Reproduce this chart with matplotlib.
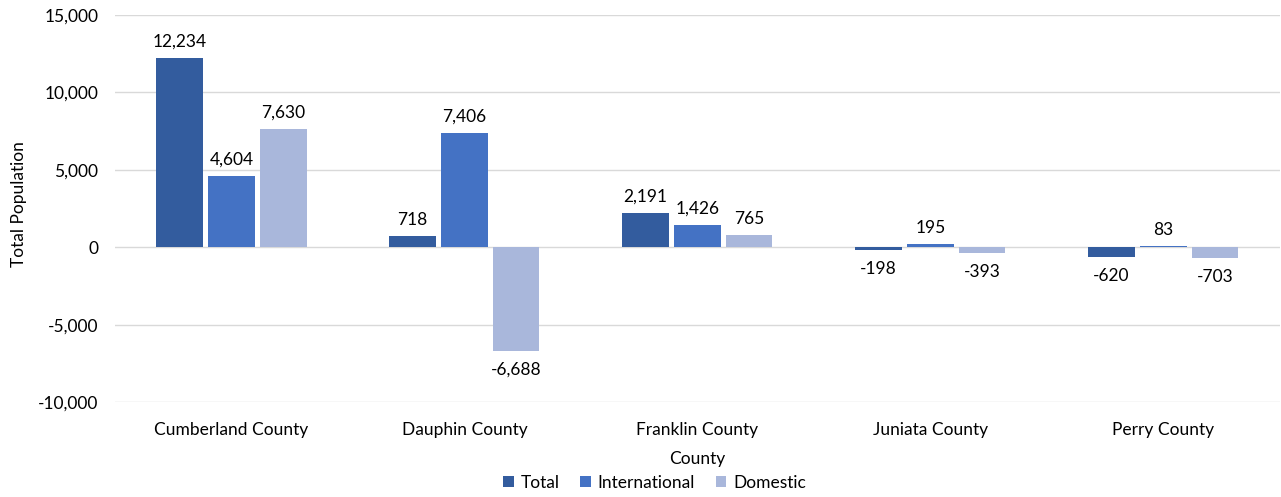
import matplotlib.pyplot as plt
import numpy as np

counties = ["Cumberland County", "Dauphin County", "Franklin County",
            "Juniata County", "Perry County"]
total = [12234, 718, 2191, -198, -620]
international = [4604, 7406, 1426, 195, 83]
domestic = [7630, -6688, 765, -393, -703]

series = [("Total", total, "#335C9E"),
          ("International", international, "#4472C4"),
          ("Domestic", domestic, "#A9B7DB")]

plt.rcParams['font.family'] = ['Lato', 'DejaVu Sans']
fs = 12.5

fig = plt.figure(figsize=(12.81, 4.97), dpi=100)
ax = fig.add_axes([0.0898, 0.191, 0.9092, 0.779])

x = np.arange(len(counties))
width = 0.2
step = 0.222
for i, (name, vals, color) in enumerate(series):
    pos = x + (i - 1) * step
    ax.bar(pos, vals, width, color=color, label=name, zorder=3)
    for p, v in zip(pos, vals):
        off = 6 if v >= 0 else -8
        ax.annotate(f"{v:,}", (p, v), xytext=(0, off), textcoords="offset points",
                    ha="center", va="bottom" if v >= 0 else "top",
                    fontsize=fs, color="#000000")

ax.set_xlim(-0.5, len(counties) - 0.5)
ax.set_ylim(-10000, 15000)
ax.set_yticks(range(-10000, 15001, 5000))
ax.set_yticklabels([f"{t:,}" for t in range(-10000, 15001, 5000)], fontsize=fs, color="#000000")
ax.set_xticks(x)
ax.set_xticklabels(counties, fontsize=fs, color="#000000")
ax.tick_params(axis="both", length=0)
ax.tick_params(axis="x", pad=14)
ax.tick_params(axis="y", pad=12)
ax.grid(axis="y", color="#D9D9D9", linewidth=1, zorder=0)
for s in ax.spines.values():
    s.set_visible(False)

ax.set_xlabel("County", fontsize=fs, labelpad=10)
fig.text(0.015, 0.59, "Total Population", rotation=90, fontsize=fs,
         ha="center", va="center")

ax.legend(loc="center", bbox_to_anchor=(0.511, 0.028), bbox_transform=fig.transFigure,
          ncol=3, frameon=False, fontsize=fs, handlelength=0.6, handleheight=0.6,
          handletextpad=0.4, columnspacing=1.2)

fig.savefig("out.png", dpi=100)
